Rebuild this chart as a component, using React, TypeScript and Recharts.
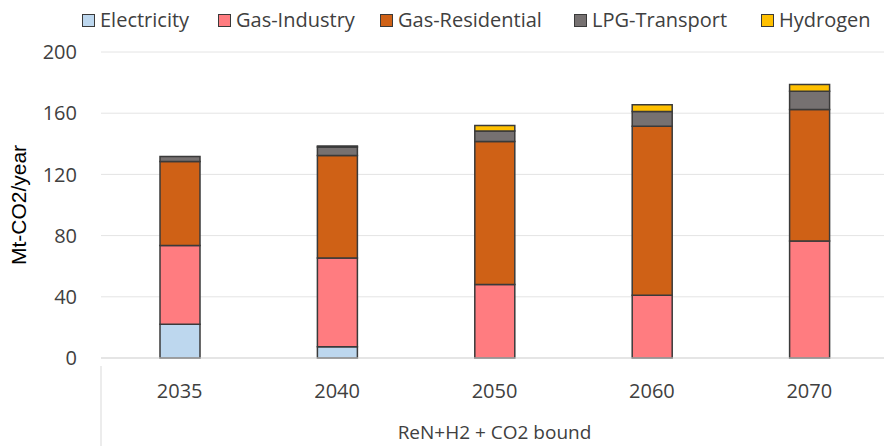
import React from "react";
import {
  BarChart,
  Bar,
  XAxis,
  YAxis,
  CartesianGrid,
  Legend,
} from "recharts";

const YEARS = ["2035", "2040", "2050", "2060", "2070"];
const ELECTRICITY = [22, 7.4, 0, 0, 0];
const GAS_INDUSTRY = [51.5, 58, 48, 41, 76.5];
const GAS_RESIDENTIAL = [55, 67, 93.5, 110.5, 86];
const LPG_TRANSPORT = [3.2, 5.5, 6.8, 9.6, 11.8];
const HYDROGEN = [0, 0.6, 3.6, 4.4, 4.4];
const Y_TICKS = [0, 40, 80, 120, 160, 200];

const SERIES = [
  { key: "Electricity", color: "#BDD7EE" },
  { key: "Gas-Industry", color: "#FF7C80" },
  { key: "Gas-Residential", color: "#CF6116" },
  { key: "LPG-Transport", color: "#767171" },
  { key: "Hydrogen", color: "#FFC000" },
];

// legend slot widths, tuned to the reference spacing
const LEGEND_SLOTS = [136, 162, 194, 187, 110];

const data = YEARS.map((year, i) => ({
  year,
  Electricity: ELECTRICITY[i],
  "Gas-Industry": GAS_INDUSTRY[i],
  "Gas-Residential": GAS_RESIDENTIAL[i],
  "LPG-Transport": LPG_TRANSPORT[i],
  Hydrogen: HYDROGEN[i],
}));

const FONT = "'Open Sans', 'Noto Sans', sans-serif";
const TEXT = "#404040";

function renderLegend() {
  return (
    <div
      style={{
        display: "flex",
        paddingLeft: 82,
        fontFamily: FONT,
        fontSize: 20,
        color: TEXT,
        lineHeight: "24px",
      }}
    >
      {SERIES.map((s, i) => (
        <div
          key={s.key}
          style={{
            display: "flex",
            alignItems: "center",
            width: LEGEND_SLOTS[i],
            whiteSpace: "nowrap",
          }}
        >
          <span
            style={{
              width: 11,
              height: 11,
              background: s.color,
              border: "1.5px solid #3a3a3a",
              marginRight: 5,
              display: "inline-block",
            }}
          />
          {s.key}
        </div>
      ))}
    </div>
  );
}

function BottomLabel(props: any) {
  const { viewBox } = props;
  const x = viewBox.x;
  const y = viewBox.y;
  return (
    <g>
      <line x1={x} y1={y + 8} x2={x} y2={446} stroke="#d9d9d9" strokeWidth={1} />
      <text
        x={x + viewBox.width / 2}
        y={y + 81}
        textAnchor="middle"
        fontFamily={FONT}
        fontSize={19}
        fill={TEXT}
      >
        ReN+H2 + CO2 bound
      </text>
    </g>
  );
}

export default function App() {
  return (
    <div
      style={{
        position: "absolute",
        left: 0,
        top: 0,
        width: 884,
        height: 446,
        overflow: "hidden",
        background: "#fff",
      }}
    >
      <BarChart
        width={888}
        height={446}
        data={data}
        barSize={40}
        margin={{ top: 52, right: 0, left: 0, bottom: 0 }}
      >
        <CartesianGrid vertical={false} stroke="#e4e4e4" />
        <XAxis
          dataKey="year"
          height={88}
          tickLine={false}
          axisLine={{ stroke: "#d9d9d9" }}
          tick={{ fontFamily: FONT, fontSize: 20, fill: TEXT }}
          tickMargin={20}
          label={<BottomLabel />}
        />
        <YAxis
          width={101}
          domain={[0, 200]}
          ticks={Y_TICKS}
          axisLine={false}
          tickLine={false}
          tickMargin={18}
          tick={{ fontFamily: FONT, fontSize: 20, fill: TEXT }}
          label={{
            value: "Mt-CO2/year",
            angle: -90,
            position: "insideLeft",
            dx: 14,
            style: {
              textAnchor: "middle",
              fontFamily: "'Liberation Sans', Arial, sans-serif",
              fontSize: 21,
              fill: "#000",
            },
          }}
        />
        <Legend
          layout="horizontal"
          verticalAlign="middle"
          align="center"
          content={renderLegend}
          wrapperStyle={{ top: 8, left: 0, width: 884 }}
        />
        {SERIES.map((s) => (
          <Bar
            key={s.key}
            dataKey={s.key}
            stackId="a"
            fill={s.color}
            stroke="#3a3a3a"
            strokeWidth={1.5}
            isAnimationActive={false}
          />
        ))}
      </BarChart>
    </div>
  );
}
